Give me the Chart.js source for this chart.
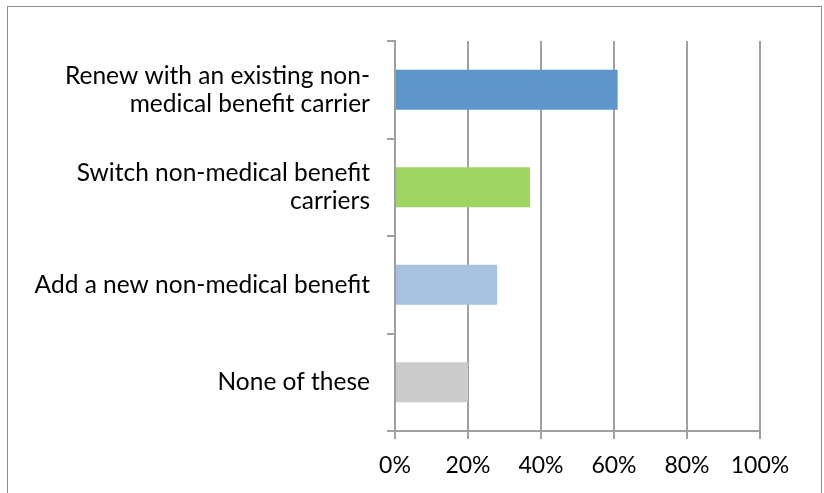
<!DOCTYPE html>
<html>
<head>
<meta charset="utf-8">
<script src="https://cdn.jsdelivr.net/npm/chart.js@4/dist/chart.umd.min.js"></script>
<style>
  html, body { margin: 0; padding: 0; background: #fff; }
  #wrap { width: 824px; height: 493px; }
</style>
</head>
<body>
<div id="wrap"><canvas id="mycanvas" width="824" height="493"></canvas></div>
<script>
var categories = [
  ["Renew with an existing non-", "medical benefit carrier"],
  ["Switch non-medical benefit", "carriers"],
  "Add a new non-medical benefit",
  "None of these"
];
var values = [61, 37, 28, 20];
var barColors = ["#5E96CA", "#A0D563", "#A6C2E0", "#CBCBCB"];
var tickValues = [0, 20, 40, 60, 80, 100];

// outer frame like the spreadsheet chart border
var frame = {
  id: 'frame',
  beforeDraw: function(chart) {
    var c = chart.ctx;
    c.save();
    c.fillStyle = '#fff';
    c.fillRect(0, 0, chart.width, chart.height);
    c.strokeStyle = '#8c8c8c';
    c.lineWidth = 1;
    c.strokeRect(7.5, 6.5, 814, 500);
    c.restore();
  }
};

var ctx = document.getElementById('mycanvas');
var chart = new Chart(ctx, {
  type: 'bar',
  data: {
    labels: categories,
    datasets: [{
      data: values,
      backgroundColor: barColors,
      borderWidth: 0,
      categoryPercentage: 1,
      barPercentage: 0.41
    }]
  },
  plugins: [frame],
  options: {
    indexAxis: 'y',
    responsive: false,
    animation: false,
    layout: { padding: { top: 41, right: 64, bottom: 0, left: 0 } },
    plugins: {
      legend: { display: false },
      tooltip: { enabled: false }
    },
    scales: {
      x: {
        min: 0,
        max: 100,
        afterBuildTicks: function(scale) {
          scale.ticks = tickValues.map(function(v) { return { value: v }; });
        },
        afterFit: function(scale) { scale.height = 62; },
        grid: {
          color: '#a0a0a0',
          lineWidth: 2,
          tickLength: 8
        },
        border: { display: true, color: '#a0a0a0', width: 2 },
        ticks: {
          color: '#000',
          padding: 13,
          font: { family: 'Lato', size: 23 },
          maxRotation: 0,
          callback: function(v) { return v + '%'; }
        }
      },
      y: {
        afterFit: function(scale) { scale.width = 395; },
        grid: {
          drawOnChartArea: false,
          color: '#a0a0a0',
          lineWidth: 2,
          tickLength: 8
        },
        border: { display: true, color: '#a0a0a0', width: 2 },
        ticks: {
          color: '#000',
          padding: 17,
          font: { family: 'Lato', size: 24.5, lineHeight: '28px' }
        }
      }
    }
  }
});
</script>
</body>
</html>
